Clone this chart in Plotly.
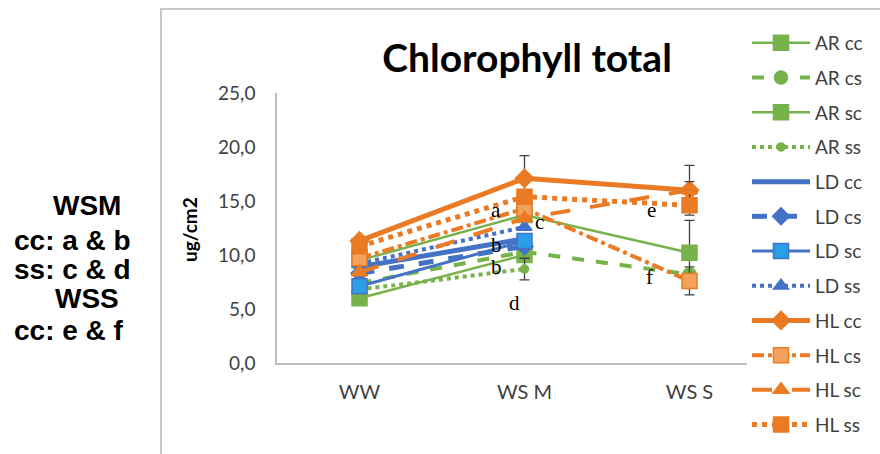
import plotly.graph_objects as go

# Sampling stages
stages = ["WW", "WS M", "WS S"]

# Total chlorophyll (ug/cm2) per genotype / treatment
ar_cc = [9.5, 13.7, 10.2]
ar_cs = [7.4, 10.3, 8.2]
ar_sc = [6.0, 10.0, None]
ar_ss = [6.8, 8.7, None]
ld_cc = [8.9, 11.5, None]
ld_cs = [8.3, 10.8, None]
ld_sc = [7.1, 11.3, None]
ld_ss = [9.2, 12.6, None]
hl_cc = [11.3, 17.1, 16.0]
hl_cs = [9.7, 14.3, 7.6]
hl_sc = [8.4, 13.4, 16.0]
hl_ss = [10.8, 15.4, 14.6]

# Standard deviations (only where bars are shown)
ar_cc_err = [0, 0, 3.0]
ar_ss_err = [0, 1.0, 0]
hl_cc_err = [0, 2.1, 2.3]
hl_cs_err = [0, 0, 1.3]
hl_sc_err = [0, 0, 0.8]

# Significance letters: (label, x position, y value)
letters = [("a", 0.83, 14.2), ("b", 0.83, 10.9), ("b", 0.83, 8.9),
           ("c", 1.09, 13.1), ("d", 0.94, 5.6), ("e", 1.77, 14.2),
           ("f", 1.76, 8.0)]

# Side note lines
note_lines = ["WSM", "cc: a & b", "ss: c & d", "WSS", "cc: e & f"]

GREEN = "#77B24A"
BLUE = "#4472C4"
LBLUE = "#2A9FE6"
ORANGE = "#EB7A24"
LORANGE = "#F5A25D"

series = [
    ("AR cc", ar_cc, GREEN, "solid", 2.5, "square", 15, GREEN, ar_cc_err),
    ("AR cs", ar_cs, GREEN, "dash", 4, "circle", 13, GREEN, None),
    ("AR sc", ar_sc, GREEN, "solid", 2.5, "square", 15, GREEN, None),
    ("AR ss", ar_ss, GREEN, "dot", 4, "circle", 8, GREEN, ar_ss_err),
    ("LD cc", ld_cc, BLUE, "solid", 5, "line-ew", 10, BLUE, None),
    ("LD cs", ld_cs, BLUE, "dash", 5, "diamond", 13, BLUE, None),
    ("LD sc", ld_sc, BLUE, "solid", 3, "square", 15, LBLUE, None),
    ("LD ss", ld_ss, BLUE, "dot", 4, "triangle-up", 13, BLUE, None),
    ("HL cc", hl_cc, ORANGE, "solid", 5, "diamond", 14, ORANGE, hl_cc_err),
    ("HL cs", hl_cs, ORANGE, "dashdot", 4, "square", 15, LORANGE, hl_cs_err),
    ("HL sc", hl_sc, ORANGE, "longdash", 4, "triangle-up", 14, ORANGE, hl_sc_err),
    ("HL ss", hl_ss, ORANGE, "dot", 5, "square", 15, ORANGE, None),
]

fig = go.Figure()
for name, vals, col, dash, lw, sym, msize, fill, err in series:
    tr = dict(
        x=stages, y=vals, name=name, mode="lines+markers",
        legendgroup=name,
        line=dict(color=col, width=lw, dash=dash),
        marker=dict(symbol=sym, size=msize, color=fill,
                    line=dict(color=col, width=1.5)),
        connectgaps=False,
    )
    if err is not None:
        tr["error_y"] = dict(type="data", array=err, visible=True,
                             color="#404040", thickness=1.3, width=5)
    fig.add_trace(go.Scatter(**tr))

# Plot area geometry in pixels
L, R, T, B = 277, 108, 93, 91
W = 880 - L - R
H = 454 - T - B


def px(x):
    return (x - L) / W


def py(y):
    return (454 - B - y) / H


annotations = []
for lab, xv, yv in letters:
    annotations.append(dict(
        x=xv, y=yv, xref="x", yref="y", text=lab, showarrow=False,
        font=dict(family="Liberation Serif", size=21, color="#000000"),
        xanchor="center", yanchor="middle"))

# Y axis title
annotations.append(dict(
    x=px(189), y=py(230), xref="paper", yref="paper",
    text="<b>ug/cm2</b>", textangle=-90, showarrow=False,
    font=dict(family="Lato", size=19, color="#000000"),
    xanchor="center", yanchor="middle"))

# Side note block
note_pos = [(87, 205, "center"), (12, 240, "left"), (12, 269, "left"),
            (87, 298, "center"), (12, 330, "left")]
for txt, (nx, ny, anc) in zip(note_lines, note_pos):
    annotations.append(dict(
        x=px(nx), y=py(ny), xref="paper", yref="paper",
        text="<b>" + txt + "</b>", showarrow=False,
        font=dict(family="Liberation Sans", size=28, color="#000000"),
        xanchor=anc, yanchor="middle"))

fig.update_layout(
    width=880, height=454,
    margin=dict(l=L, r=R, t=T, b=B, pad=0),
    paper_bgcolor="white", plot_bgcolor="white",
    separators=",.",
    title=dict(text="<b>Chlorophyll total</b>", x=px(527), xanchor="center",
               y=1 - 58 / 454, yanchor="middle", xref="paper",
               font=dict(family="Lato", size=39, color="#000000")),
    xaxis=dict(type="category", range=[-0.5, 2.5], showgrid=False,
               showline=True, linecolor="#BFBFBF", linewidth=1.5,
               ticks="", zeroline=False, ticklabelstandoff=10,
               tickfont=dict(family="Lato", size=20, color="#404040")),
    yaxis=dict(range=[0, 25], dtick=5, tickformat=".1f", showgrid=False,
               showline=True, linecolor="#BFBFBF", linewidth=1.5,
               ticks="", zeroline=False, ticklabelstandoff=16,
               tickfont=dict(family="Lato", size=19, color="#404040")),
    legend=dict(x=px(747), y=py(24), xanchor="left", yanchor="top",
                bgcolor="white", borderwidth=0, tracegroupgap=7,
                itemwidth=58, maxheight=600,
                font=dict(family="Lato", size=19, color="#404040")),
    showlegend=True,
    annotations=annotations,
    shapes=[dict(type="rect", xref="paper", yref="paper",
                 x0=px(161), x1=px(890), y0=py(470), y1=py(9),
                 line=dict(color="#C8C8C8", width=2), layer="below")],
)

fig.write_html("out.html")
